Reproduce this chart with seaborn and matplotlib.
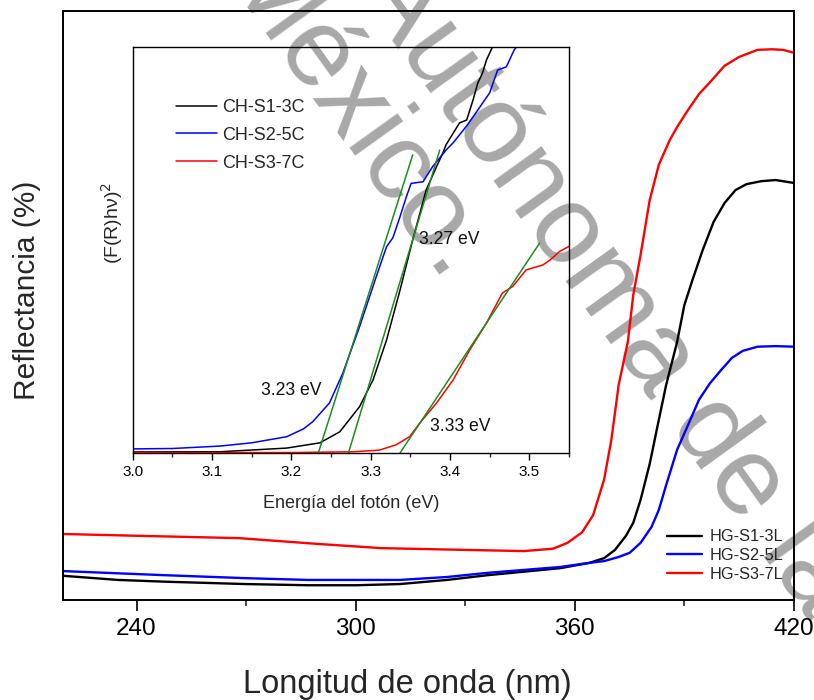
import numpy as np
import pandas as pd
import matplotlib
matplotlib.use("Agg")
import matplotlib.pyplot as plt
import seaborn as sns
from matplotlib.ticker import MultipleLocator

# ---------------- main spectrum data (wavelength nm, reflectance %) ----------------
hg1_nm = [220, 235, 248, 270, 287, 300, 312, 325, 336, 346, 356, 364, 368, 371, 374, 376, 378,
          380.5, 383, 385, 388, 390, 392.3, 395, 398, 401, 404, 407, 411, 415, 420]
hg1_R = [4.1, 3.4, 3.1, 2.7, 2.5, 2.5, 2.7, 3.4, 4.2, 4.8, 5.4, 6.3, 7.1, 8.5, 10.9, 13.1, 17.0,
         23.1, 30.6, 36.5, 43.8, 50.1, 54.5, 59.4, 64.2, 67.4, 69.6, 70.6, 71.1, 71.3, 70.8]

hg2_nm = [220, 248, 270, 287, 300, 312, 325, 336, 346, 356, 364, 368, 372, 375, 378, 381, 383,
          385, 388, 391, 394, 397, 400, 403, 406, 410, 415, 420]
hg2_R = [4.9, 4.2, 3.7, 3.4, 3.4, 3.4, 3.9, 4.6, 5.1, 5.6, 6.3, 6.6, 7.3, 8.0, 9.7, 12.4, 15.3,
         19.5, 25.5, 29.7, 34.0, 36.8, 39.0, 41.1, 42.3, 43.0, 43.1, 43.0]

hg3_nm = [220, 240, 268, 290, 307, 330, 346, 354, 358, 362, 365, 368, 370, 372, 374.5, 376, 378,
          380.5, 383, 386, 388, 391, 394, 397, 401, 405, 410, 414, 417, 420]
hg3_R = [11.2, 10.9, 10.5, 9.5, 8.8, 8.5, 8.3, 8.7, 9.7, 11.5, 14.4, 20.4, 27.2, 36.5, 43.8, 51.8, 58.6,
         67.9, 73.9, 78.1, 80.3, 83.2, 85.9, 87.9, 90.7, 92.2, 93.4, 93.5, 93.4, 92.9]

main_names = ["HG-S1-3L", "HG-S2-5L", "HG-S3-7L"]

# ---------------- inset Tauc data (photon energy eV, (F(R)hv)^2 a.u.) ----------------
ch1_eV = [3.00, 3.11, 3.194, 3.236, 3.261, 3.286, 3.303, 3.320, 3.337, 3.353, 3.370, 3.383,
          3.391, 3.395, 3.412, 3.421, 3.429, 3.435, 3.441, 3.446, 3.454, 3.46]
ch1_F = [0.25, 0.3, 1.2, 2.5, 5.2, 11.4, 18.0, 27.8, 40.1, 52.5, 64.8, 70.5,
         73.9, 75.9, 81.3, 82.0, 86.9, 91.1, 93.6, 96.8, 100.2, 103]

ch2_eV = [3.00, 3.05, 3.11, 3.15, 3.194, 3.215, 3.227, 3.248, 3.265, 3.286, 3.307, 3.320, 3.328,
          3.337, 3.345, 3.351, 3.366, 3.378, 3.395, 3.404, 3.422, 3.438, 3.450, 3.460, 3.471,
          3.481, 3.50]
ch2_F = [1.0, 1.1, 1.7, 2.5, 4.0, 5.9, 7.7, 12.3, 19.7, 31.1, 43.4, 50.8, 53.0,
         58.2, 63.1, 66.4, 66.8, 70.5, 74.6, 76.4, 80.8, 85.3, 88.7, 94.3, 95.1,
         99.3, 104]

ch3_eV = [3.00, 3.20, 3.278, 3.311, 3.332, 3.349, 3.362, 3.383, 3.404, 3.425, 3.446, 3.466,
          3.479, 3.496, 3.517, 3.526, 3.538, 3.551]
ch3_F = [0.1, 0.1, 0.3, 0.7, 2.0, 4.0, 7.4, 12.3, 18.0, 25.4, 32.0, 39.4,
         41.0, 45.1, 46.3, 47.5, 49.6, 51.0]

inset_names = ["CH-S1-3C", "CH-S2-5C", "CH-S3-7C"]

# linear fits (band-gap extrapolations)
fit1_eV = [3.272, 3.387]
fit1_F = [0.0, 74.6]
fit2_eV = [3.234, 3.353]
fit2_F = [0.0, 73.4]
fit3_eV = [3.337, 3.513]
fit3_F = [0.0, 51.7]

gap_labels = ["3.27 eV", "3.23 eV", "3.33 eV"]
gap_pos_eV = [3.3606, 3.162, 3.3745]
gap_pos_F = [52.5, 15.5, 6.4]

colors = ["#000000", "#0000ff", "#ff0000"]
green = "#1e8c1e"

# ---------------- figure ----------------
sns.set_theme(style="white")
plt.rcParams["font.family"] = ["Liberation Sans", "DejaVu Sans"]

fig = plt.figure(figsize=(8.14, 7.0), dpi=100)
fig.patch.set_facecolor("white")

# watermark (beneath everything)
wm = dict(fontsize=80, color="#a8a8a8", rotation=-54.3, rotation_mode="anchor",
          ha="left", va="baseline", zorder=-10)
fig.text(0.436, 1.017, "Autónoma de la", **wm)
fig.text(0.268, 1.030, "México.", **wm)

ax = fig.add_axes([0.0780, 0.1429, 0.8974, 0.8414])
ax.set_facecolor("none")

main_df = pd.concat([
    pd.DataFrame({"nm": hg1_nm, "R": hg1_R, "s": main_names[0]}),
    pd.DataFrame({"nm": hg2_nm, "R": hg2_R, "s": main_names[1]}),
    pd.DataFrame({"nm": hg3_nm, "R": hg3_R, "s": main_names[2]}),
])
for name, c in zip(main_names, colors):
    sub = main_df[main_df["s"] == name]
    sns.lineplot(data=sub, x="nm", y="R", color=c, linewidth=1.7, estimator=None,
                 sort=False, ax=ax, label=name, legend=False)

ax.set_xlim(220, 420)
ax.set_ylim(0, 100)
ax.set_yticks([])
ax.set_xticks([240, 300, 360, 420])
ax.xaxis.set_minor_locator(MultipleLocator(30))
ax.tick_params(axis="x", which="major", direction="out", length=8, width=1.2,
               labelsize=17.5, pad=5, colors="black", bottom=True)
ax.tick_params(axis="x", which="minor", direction="out", length=4, width=1.2, bottom=True)
for sp in ax.spines.values():
    sp.set_linewidth(1.4)
    sp.set_color("black")
ax.set_xlabel("Longitud de onda (nm)", fontsize=23.5)
ax.set_ylabel("Reflectancia (%)", fontsize=21.5)
ax.xaxis.set_label_coords(0.47, -0.117)
ax.yaxis.set_label_coords(-0.031, 0.525)
ax.legend(loc="lower right", bbox_to_anchor=(0.985, 0.031), frameon=False,
          fontsize=11.7, handlelength=2.2, handletextpad=0.43, labelspacing=0.23,
          borderpad=0, borderaxespad=0)

# ---------------- inset ----------------
ins = fig.add_axes([0.1630, 0.3529, 0.5360, 0.5800])
ins.set_facecolor("none")

inset_df = pd.concat([
    pd.DataFrame({"eV": ch1_eV, "F": ch1_F, "s": inset_names[0]}),
    pd.DataFrame({"eV": ch2_eV, "F": ch2_F, "s": inset_names[1]}),
    pd.DataFrame({"eV": ch3_eV, "F": ch3_F, "s": inset_names[2]}),
])
for name, c in zip(inset_names, colors):
    sub = inset_df[inset_df["s"] == name]
    sns.lineplot(data=sub, x="eV", y="F", color=c, linewidth=1.1, estimator=None,
                 sort=False, ax=ins, label=name, legend=False)

fit_df = pd.concat([
    pd.DataFrame({"eV": fit1_eV, "F": fit1_F, "fit": "f1"}),
    pd.DataFrame({"eV": fit2_eV, "F": fit2_F, "fit": "f2"}),
    pd.DataFrame({"eV": fit3_eV, "F": fit3_F, "fit": "f3"}),
])
for f in ["f1", "f2", "f3"]:
    sub = fit_df[fit_df["fit"] == f]
    sns.lineplot(data=sub, x="eV", y="F", color=green, linewidth=1.1, estimator=None,
                 sort=False, ax=ins, legend=False)

for lab, xe, yf in zip(gap_labels, gap_pos_eV, gap_pos_F):
    ins.text(xe, yf, lab, fontsize=12.7, ha="left", va="center", color="#111111")

ins.set_xlim(3.0, 3.55)
ins.set_ylim(0, 100)
ins.set_yticks([])
ins.xaxis.set_major_locator(MultipleLocator(0.1))
ins.xaxis.set_minor_locator(MultipleLocator(0.05))
ins.tick_params(axis="x", which="major", direction="out", length=5, width=1.0,
                labelsize=11, pad=3.5, colors="black", bottom=True)
ins.tick_params(axis="x", which="minor", direction="out", length=3, width=1.0, bottom=True)
ins.xaxis.set_major_formatter(matplotlib.ticker.FormatStrFormatter("%.1f"))
for sp in ins.spines.values():
    sp.set_linewidth(1.0)
    sp.set_color("black")
ins.set_xlabel("Energía del fotón (eV)", fontsize=13)
ins.set_ylabel("(F(R)hν)$^2$", fontsize=14)
ins.xaxis.set_label_coords(0.5, -0.103)
ins.yaxis.set_label_coords(-0.018, 0.567)
ins.legend(loc="upper left", bbox_to_anchor=(0.099, 0.872), frameon=False,
           fontsize=13, handlelength=2.27, handletextpad=0.28, labelspacing=0.6,
           borderpad=0, borderaxespad=0)

fig.savefig("out.png", dpi=100)
